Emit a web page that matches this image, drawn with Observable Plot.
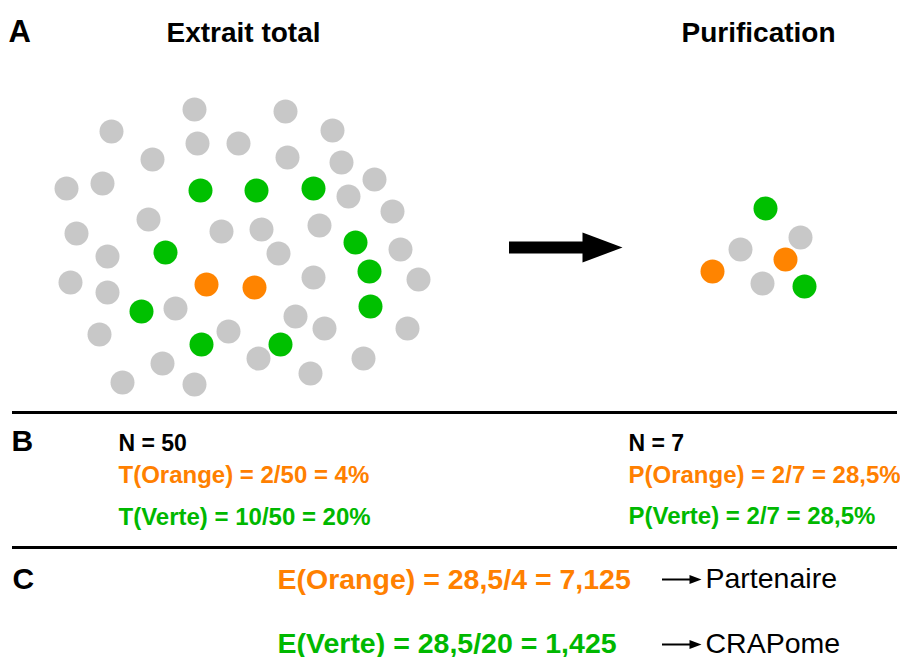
<!DOCTYPE html>
<html>
<head>
<meta charset="utf-8">
<script src="https://cdn.jsdelivr.net/npm/d3@7"></script>
<script src="https://cdn.jsdelivr.net/npm/@observablehq/plot@0.6"></script>
<style>
  html, body { margin: 0; padding: 0; background: #fff; }
  #chart svg { display: block; }
</style>
</head>
<body>
<div id="chart"></div>
<script>
// ---- Data (pixel coordinates of the 900x657 diagram) ----
const extraitGris = [
  [194,109],[285,111],[111,131],[332,130],[197,143],[238,143],[287,157],[152,159],
  [341,162],[66,188],[102,183],[374,179],[348,196],[148,219],[392,211],[221,231],
  [261,229],[319,225],[76,233],[107,256],[278,253],[400,249],[70,282],[107,292],
  [313,277],[418,279],[175,308],[295,316],[99,334],[228,331],[324,328],[407,328],
  [258,358],[162,363],[363,358],[310,373],[122,382],[194,384]
];
const extraitVert = [
  [200,190],[256,190],[313,188],[165,252],[355,242],[369,271],[370,306],[141,311],
  [201,344],[280,344]
];
const extraitOrange = [[206,284],[254,287]];
const purifGris = [[800,237],[740,249],[762,283]];
const purifVert = [[765,208],[804,286]];
const purifOrange = [[785,259],[712,271]];

const colorNames = ["gris", "vert", "orange"];
const colorValues = ["#c8c8c8", "#00c000", "#ff8400"];

const titles = ["A", "Extrait total", "Purification"];
const sectionB = ["B", "N = 50", "T(Orange) = 2/50 = 4%", "T(Verte) = 10/50 = 20%",
                  "N = 7", "P(Orange) = 2/7 = 28,5%", "P(Verte) = 2/7 = 28,5%"];
const sectionC = ["C", "E(Orange) = 28,5/4 = 7,125", "E(Verte) = 28,5/20 = 1,425",
                  "Partenaire", "CRAPome"];

// ---- Build tables ----
const dots = [];
const add = (arr, c) => arr.forEach(([x, y]) => dots.push({x, y, c}));
add(extraitGris, "gris"); add(extraitVert, "vert"); add(extraitOrange, "orange");
add(purifGris, "gris"); add(purifVert, "vert"); add(purifOrange, "orange");

const col = Object.fromEntries(colorNames.map((n, i) => [n, colorValues[i]]));
const txtColor = {noir: "#000", orange: "#ff8000", vert: "#00b800"};

const labels = [
  {t: titles[0], x: 8,   y: 41, s: 31, w: "bold", a: "start",  c: "noir"},
  {t: titles[1], x: 243, y: 41, s: 28, w: "bold", a: "middle", c: "noir"},
  {t: titles[2], x: 758, y: 41, s: 28, w: "bold", a: "middle", c: "noir"},
  {t: sectionB[0], x: 11, y: 450, s: 30, w: "bold", a: "start", c: "noir"},
  {t: sectionB[1], x: 118, y: 450, s: 23, w: "bold", a: "start", c: "noir"},
  {t: sectionB[2], x: 118, y: 482, s: 24, w: "bold", a: "start", c: "orange"},
  {t: sectionB[3], x: 118, y: 524, s: 24, w: "bold", a: "start", c: "vert"},
  {t: sectionB[4], x: 628, y: 450, s: 23, w: "bold", a: "start", c: "noir"},
  {t: sectionB[5], x: 628, y: 482, s: 24, w: "bold", a: "start", c: "orange"},
  {t: sectionB[6], x: 628, y: 523, s: 24, w: "bold", a: "start", c: "vert"},
  {t: sectionC[0], x: 12, y: 588, s: 30, w: "bold", a: "start", c: "noir"},
  {t: sectionC[1], x: 277, y: 588, s: 28.5, w: "bold", a: "start", c: "orange"},
  {t: sectionC[2], x: 277, y: 652, s: 28.5, w: "bold", a: "start", c: "vert"},
  {t: sectionC[3], x: 705, y: 587, s: 28.5, w: "normal", a: "start", c: "noir"},
  {t: sectionC[4], x: 705, y: 652, s: 28.5, w: "normal", a: "start", c: "noir"}
];

// separators
const rules = [{y: 412}, {y: 547}];
// arrows: shafts and heads
const shafts = [
  {id: "big", x1: 509, x2: 584, y: 247, w: 12},
  {id: "p", x1: 662, x2: 692, y: 579, w: 2},
  {id: "c", x1: 662, x2: 692, y: 644, w: 2}
];
const heads = [
  {id: "big", x: 582, y: 232}, {id: "big", x: 622, y: 247}, {id: "big", x: 582, y: 262}, {id: "big", x: 582, y: 232},
  {id: "p", x: 689, y: 574.5}, {id: "p", x: 701, y: 579}, {id: "p", x: 689, y: 583.5}, {id: "p", x: 689, y: 574.5},
  {id: "c", x: 689, y: 639.5}, {id: "c", x: 701, y: 644}, {id: "c", x: 689, y: 648.5}, {id: "c", x: 689, y: 639.5}
];

const textMarks = labels.map(d => Plot.text([d], {
  x: "x", y: "y", text: "t",
  textAnchor: d.a, lineAnchor: "bottom",
  fontSize: d.s, fontWeight: d.w,
  fill: txtColor[d.c],
  fontFamily: "Liberation Sans, Arial, sans-serif"
}));

const chart = Plot.plot({
  width: 900, height: 657,
  marginTop: 0, marginRight: 0, marginBottom: 0, marginLeft: 0,
  x: {domain: [0, 900], range: [0, 900], axis: null},
  y: {domain: [0, 657], range: [0, 657], axis: null},
  style: {background: "#fff", fontFamily: "Liberation Sans, Arial, sans-serif"},
  marks: [
    Plot.ruleY(rules, {y: "y", x1: 12, x2: 897, stroke: "#000", strokeWidth: 3}),
    Plot.ruleY(shafts, {y: "y", x1: "x1", x2: "x2", stroke: "#000", strokeWidth: "w"}),
    Plot.line(heads, {x: "x", y: "y", z: "id", fill: "#000", stroke: "none", curve: "linear-closed"}),
    Plot.dot(dots, {x: "x", y: "y", r: 12, fill: d => col[d.c], stroke: "none"}),
    ...textMarks
  ]
});
document.getElementById("chart").appendChild(chart);
</script>
</body>
</html>
